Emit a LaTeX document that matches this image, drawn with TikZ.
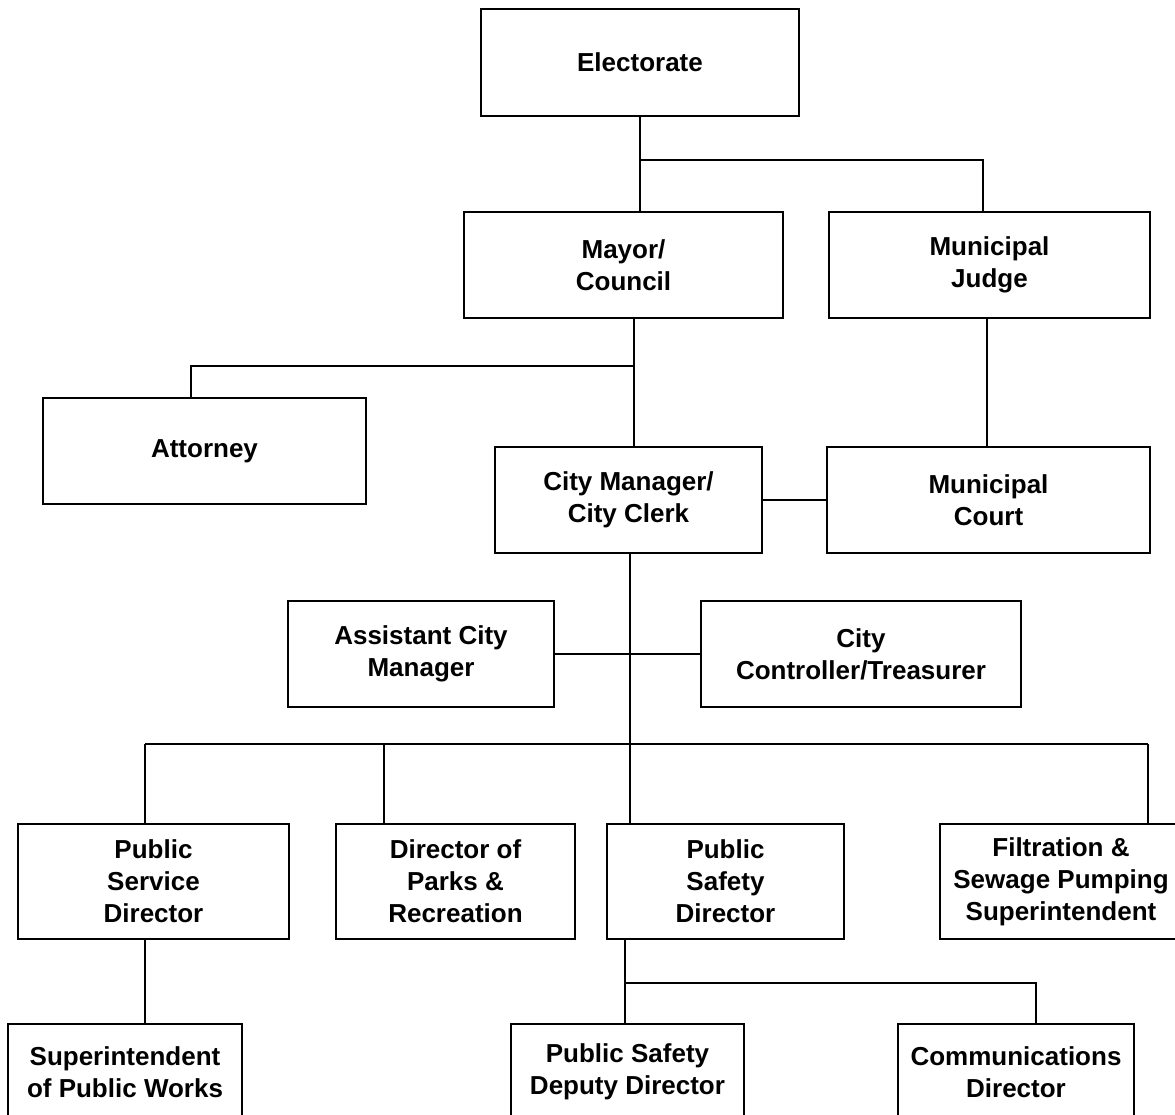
\documentclass[tikz,border=0pt]{standalone}
\usepackage{fontspec}
\setmainfont{Liberation Sans}
\begin{document}
\begin{tikzpicture}[x=1pt,y=-1pt,
  box/.style={draw, line width=2.6pt, inner sep=0pt, align=center,
    font=\fontsize{26}{32}\selectfont\bfseries},
  conn/.style={line width=2pt}]
\useasboundingbox (0,0) rectangle (1175,1114);
\clip (0,0) rectangle (1175,1114);
\fill[white] (0,0) rectangle (1175,1114);
% boxes
\node[box, minimum width=318pt, minimum height=107pt] (elect) at (640,62.5) {Electorate};
\node[box, minimum width=319pt, minimum height=106pt] (mayor) at (623.5,265) {Mayor/\\Council};
\node[box, minimum width=321pt, minimum height=106pt] (judge) at (989.5,265) {Municipal\\Judge};
\node[box, minimum width=323pt, minimum height=106pt] (atty) at (204.5,451) {Attorney};
\node[box, minimum width=267pt, minimum height=106pt] (cmgr) at (628.5,500) {City Manager/\\City Clerk};
\node[box, minimum width=323pt, minimum height=106pt] (court) at (988.5,500) {Municipal\\Court};
\node[box, minimum width=266pt, minimum height=106pt] (asst) at (421,654) {Assistant City\\Manager};
\node[box, minimum width=320pt, minimum height=106pt] (ctrl) at (861,654) {City\\Controller/Treasurer};
\node[box, minimum width=271pt, minimum height=115pt] (psd) at (153.5,881.5) {Public\\Service\\Director};
\node[box, minimum width=239pt, minimum height=115pt] (parks) at (455.5,881.5) {Director of\\Parks \&\\Recreation};
\node[box, minimum width=237pt, minimum height=115pt] (pubsafe) at (725.5,881.5) {Public\\Safety\\Director};
\node[box, minimum width=242pt, minimum height=115pt] (filt) at (1061,881.5) {Filtration \&\\Sewage Pumping\\Superintendent};
\node[box, minimum width=234pt, minimum height=96pt] (super) at (125,1072) {Superintendent\\of Public Works};
\node[box, minimum width=233pt, minimum height=96pt] (deputy) at (627.5,1072) {Public Safety\\Deputy Director};
\node[box, minimum width=236pt, minimum height=96pt] (comms) at (1016,1072) {Communications\\Director};
% junction coordinates
\coordinate (e1) at (640,160);
\coordinate (e2) at (983,160);
\coordinate (m1) at (634,366);
\coordinate (a1) at (191,366);
\coordinate (jx) at (987,0);
\coordinate (c1) at (630,744);
\coordinate (h1) at (145,744);
\coordinate (h2) at (384,744);
\coordinate (h3) at (1148,744);
\coordinate (p1) at (625,983);
\coordinate (p2) at (1036,983);
% connectors
\draw[conn] (elect.south) -- (elect.south |- mayor.north);
\draw[conn] (e1) -- (e2) -- (e2 |- judge.north);
\draw[conn] (m1 |- mayor.south) -- (m1 |- cmgr.north);
\draw[conn] (m1) -- (a1) -- (a1 |- atty.north);
\draw[conn] (jx |- judge.south) -- (jx |- court.north);
\draw[conn] (cmgr.east) -- (court.west);
\draw[conn] (asst.east) -- (ctrl.west);
\draw[conn] (c1 |- cmgr.south) -- (c1 |- pubsafe.north);
\draw[conn] (h1) -- (h3);
\draw[conn] (h1) -- (h1 |- psd.north);
\draw[conn] (h2) -- (h2 |- parks.north);
\draw[conn] (h3) -- (h3 |- filt.north);
\draw[conn] (h1 |- psd.south) -- (h1 |- super.north);
\draw[conn] (p1 |- pubsafe.south) -- (p1 |- deputy.north);
\draw[conn] (p1) -- (p2) -- (p2 |- comms.north);
\end{tikzpicture}
\end{document}
